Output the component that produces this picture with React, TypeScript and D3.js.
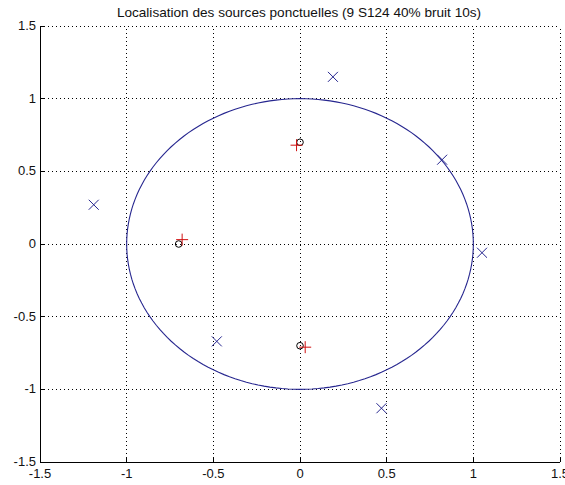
import React from 'react';
import { scaleLinear, range } from 'd3';

const W = 565;
const H = 485;
const margin = { top: 26, right: 5, bottom: 23, left: 40 };

const title = 'Localisation des sources ponctuelles (9 S124 40% bruit 10s)';
const xTicks = [-1.5, -1, -0.5, 0, 0.5, 1, 1.5];
const yTicks = [-1.5, -1, -0.5, 0, 0.5, 1, 1.5];

// estimated sources (blue x)
const crossX = [-1.19, 0.19, 0.82, 1.05, 0.47, -0.48];
const crossY = [0.27, 1.15, 0.58, -0.06, -1.13, -0.67];
// true sources (black o)
const circX = [0, -0.7, 0];
const circY = [0.7, 0, -0.7];
// detected sources (red +)
const plusX = [-0.02, -0.68, 0.03];
const plusY = [0.68, 0.03, -0.71];

const fmt = (v: number) => String(v);

export default function App() {
  const x = scaleLinear().domain([-1.5, 1.5]).range([margin.left, W - margin.right]);
  const y = scaleLinear().domain([-1.5, 1.5]).range([H - margin.bottom, margin.top]);

  // unit circle
  const angles = range(0, 361, 2).map(d => (d * Math.PI) / 180);
  const circlePath = angles
    .map((a, i) => `${i ? 'L' : 'M'}${x(Math.cos(a))},${y(Math.sin(a))}`)
    .join('');

  const font = '"Liberation Sans", Arial, sans-serif';
  const blue = '#26268f';

  return (
    <svg width={W} height={H} style={{ position: 'absolute', left: 0, top: 0, background: '#fff' }}>
      <text x={299} y={17} textAnchor="middle" fontFamily={font} fontSize={13.6} fill="#111">
        {title}
      </text>

      {/* grid */}
      <g stroke="#000" strokeWidth={1} strokeDasharray="1,3" shapeRendering="crispEdges">
        {xTicks.map(t => (
          <line key={'gx' + t} x1={x(t)} x2={x(t)} y1={y(-1.5)} y2={y(1.5)} />
        ))}
        {yTicks.map(t => (
          <line key={'gy' + t} x1={x(-1.5)} x2={x(1.5)} y1={y(t)} y2={y(t)} />
        ))}
      </g>

      {/* axes */}
      <g stroke="#000" strokeWidth={1} shapeRendering="crispEdges">
        <line x1={x(-1.5)} x2={x(1.5)} y1={y(-1.5)} y2={y(-1.5)} />
        <line x1={x(-1.5)} x2={x(-1.5)} y1={y(-1.5)} y2={y(1.5)} />
        {xTicks.map(t => (
          <line key={'tx' + t} x1={x(t)} x2={x(t)} y1={y(-1.5)} y2={y(-1.5) - 5} />
        ))}
        {yTicks.map(t => (
          <line key={'ty' + t} x1={x(-1.5)} x2={x(-1.5) + 5} y1={y(t)} y2={y(t)} />
        ))}
      </g>

      <g fontFamily={font} fontSize={13} fill="#111">
        {xTicks.map(t => (
          <text key={'lx' + t} x={x(t)} y={y(-1.5) + 16} textAnchor="middle">
            {fmt(t)}
          </text>
        ))}
        {yTicks.map(t => (
          <text key={'ly' + t} x={x(-1.5) - 4} y={y(t) + 4} textAnchor="end">
            {fmt(t)}
          </text>
        ))}
      </g>

      <path d={circlePath} fill="none" stroke={blue} strokeWidth={1.1} />

      <g stroke={blue} strokeWidth={1}>
        {crossX.map((cx, i) => (
          <path
            key={'c' + i}
            d={`M${x(cx) - 5},${y(crossY[i]) - 5}L${x(cx) + 5},${y(crossY[i]) + 5}M${x(cx) - 5},${y(crossY[i]) + 5}L${x(cx) + 5},${y(crossY[i]) - 5}`}
          />
        ))}
      </g>

      <g stroke="#000" strokeWidth={1} fill="none">
        {circX.map((cx, i) => (
          <circle key={'o' + i} cx={x(cx)} cy={y(circY[i])} r={3.3} />
        ))}
      </g>

      <g stroke="#d01010" strokeWidth={1}>
        {plusX.map((px, i) => (
          <path
            key={'p' + i}
            d={`M${x(px) - 6},${y(plusY[i])}L${x(px) + 6},${y(plusY[i])}M${x(px)},${y(plusY[i]) - 6}L${x(px)},${y(plusY[i]) + 6}`}
          />
        ))}
      </g>
    </svg>
  );
}
